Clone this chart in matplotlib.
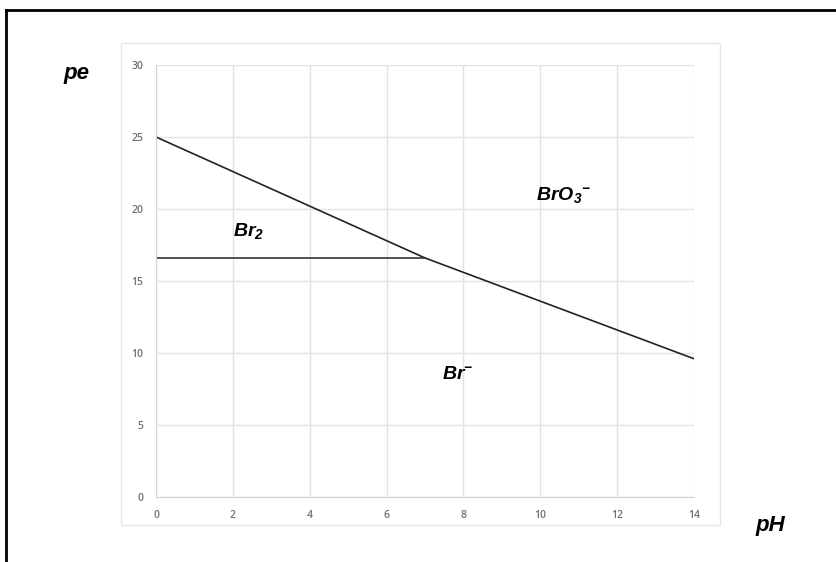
import matplotlib
matplotlib.use("Agg")
import matplotlib.pyplot as plt
from matplotlib.lines import Line2D
from matplotlib.patches import Rectangle

# pe-pH diagram for bromine
ph_upper = [0, 7, 14]
pe_upper = [25, 16.6, 9.6]
ph_br2 = [0, 7]
pe_br2 = [16.6, 16.6]

species = ["Br$_2$", "BrO$_3{}^{-}$", "Br$^{-}$"]
species_ph = [2.4, 10.6, 7.85]
species_pe = [18.5, 21.0, 8.5]

xticks = [0, 2, 4, 6, 8, 10, 12, 14]
yticks = [0, 5, 10, 15, 20, 25, 30]

plt.rcParams["mathtext.fontset"] = "custom"
plt.rcParams["mathtext.rm"] = "Liberation Sans:bold:italic"
plt.rcParams["mathtext.it"] = "Liberation Sans:bold:italic"
plt.rcParams["mathtext.bf"] = "Liberation Sans:bold:italic"

W, H = 836, 562
fig = plt.figure(figsize=(W / 100, H / 100), dpi=100)

# black frame (top and left edges only visible)
fig.add_artist(Line2D([6 / W, 1], [1 - 10 / H, 1 - 10 / H], color="black", lw=2.0))
fig.add_artist(Line2D([6 / W, 6 / W], [0, 1 - 10 / H], color="black", lw=2.0))

# light grey chart area box
fig.add_artist(Rectangle((121 / W, 1 - 525 / H), (720 - 121) / W, (525 - 43) / H,
                         fill=False, edgecolor="#e6e6e6", lw=1.0))

ax = fig.add_axes([156 / W, 1 - 497 / H, (694 - 156) / W, (497 - 65) / H])
ax.set_xlim(0, 14)
ax.set_ylim(0, 30)
ax.set_xticks(xticks)
ax.set_yticks(yticks)
ax.grid(True, color="#e2e2e2", lw=1.0)
ax.set_axisbelow(True)
for s in ax.spines.values():
    s.set_visible(False)
ax.spines["left"].set_visible(True)
ax.spines["bottom"].set_visible(True)
ax.spines["left"].set_color("#d4d4d4")
ax.spines["bottom"].set_color("#d4d4d4")
ax.tick_params(length=0, labelsize=7.5, labelcolor="#707070", pad=9)
for lab in ax.get_xticklabels() + ax.get_yticklabels():
    lab.set_fontfamily("Open Sans")
    lab.set_fontweight("semibold")

ax.plot(ph_upper, pe_upper, color="#222222", lw=1.2)
ax.plot(ph_br2, pe_br2, color="#333333", lw=1.2)

for name, xv, yv in zip(species, species_ph, species_pe):
    ax.text(xv, yv, name, fontsize=14, fontfamily="Liberation Sans",
            fontweight="bold", fontstyle="italic", ha="center", va="center")

fig.text(76 / W, 1 - 74 / H, "pe", fontsize=16, fontfamily="Liberation Sans",
         fontweight="bold", fontstyle="italic", ha="center", va="center")
fig.text(770 / W, 1 - 526 / H, "pH", fontsize=16, fontfamily="Liberation Sans",
         fontweight="bold", fontstyle="italic", ha="center", va="center")

fig.savefig("out.png", dpi=100)
